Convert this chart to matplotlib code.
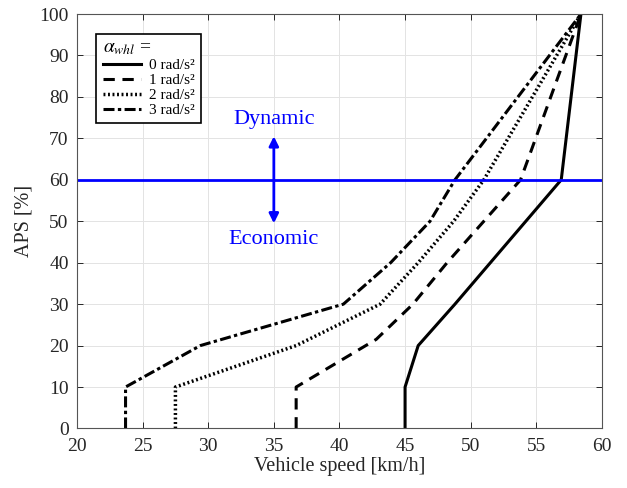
import matplotlib
matplotlib.use("Agg")
import matplotlib.pyplot as plt

plt.rcParams['font.family'] = ['Liberation Serif', 'DejaVu Serif']
plt.rcParams['mathtext.fontset'] = 'stix'

# APS [%] breakpoints of each shift line, and the vehicle speed [km/h] at each
aps_0 = [0, 10, 20, 30, 40, 50, 60, 100]
speed_0 = [45.0, 45.0, 46.0, 48.8, 51.5, 54.2, 56.9, 58.4]

aps_1 = [0, 10, 21.5, 30, 40, 50, 60, 100]
speed_1 = [36.7, 36.7, 42.8, 45.6, 48.2, 51.0, 53.8, 58.4]

aps_2 = [0, 10, 20, 30, 40, 50, 60, 100]
speed_2 = [27.5, 27.5, 36.7, 43.1, 46.0, 48.7, 51.0, 58.4]

aps_3 = [0, 10, 20, 30, 40, 50, 60, 100]
speed_3 = [23.7, 23.7, 29.4, 40.3, 43.9, 46.9, 48.8, 58.4]

labels = ['0 rad/s²', '1 rad/s²', '2 rad/s²', '3 rad/s²']
threshold = 60

fig = plt.figure(figsize=(6.27, 4.88), dpi=100)
ax = fig.add_axes([0.1228, 0.122, 0.8372, 0.8492])

lw = 2.2
ax.plot(speed_0, aps_0, color='k', lw=lw, linestyle='-', label=labels[0])
ax.plot(speed_1, aps_1, color='k', lw=lw, linestyle=(0, (3.7, 2.5)), label=labels[1])
ax.plot(speed_2, aps_2, color='k', lw=2.5, linestyle=(0, (0.55, 0.75)), label=labels[2])
ax.plot(speed_3, aps_3, color='k', lw=lw, linestyle=(0, (3.6, 1.1, 1.1, 1.1)), label=labels[3])

# shift threshold line and mode arrow
ax.axhline(threshold, color='#0000ff', lw=2)
ax.annotate('', xy=(35, 70.5), xytext=(35, 49.5),
            arrowprops=dict(arrowstyle='<|-|>', color='#0000ff', lw=2,
                            mutation_scale=14, shrinkA=0, shrinkB=0))
ax.text(35, 74.5, 'Dynamic', color='#0000ff', fontsize=16, ha='center', va='center')
ax.text(35, 45.5, 'Economic', color='#0000ff', fontsize=16, ha='center', va='center')

ax.set_xlim(20, 60)
ax.set_ylim(0, 100)
ax.set_xticks(range(20, 61, 5))
ax.set_yticks(range(0, 101, 10))
ax.grid(True, color='#e3e3e3', lw=0.7)
ax.set_axisbelow(True)
ax.tick_params(direction='in', top=True, right=True, labelsize=14,
               colors='#262626', length=4, width=0.7)
ax.tick_params(axis='x', pad=7)
ax.tick_params(axis='y', pad=6)
for sp in ax.spines.values():
    sp.set_color('#555555')
    sp.set_linewidth(0.8)

ax.set_xlabel('Vehicle speed [km/h]', fontsize=14.5, color='#262626', labelpad=1)
ax.set_ylabel('APS [%]', fontsize=14.5, color='#262626', labelpad=4)

leg = ax.legend(title=r'$\alpha_{whl}$ =', loc='upper left',
                bbox_to_anchor=(0.037, 0.953), fontsize=11, title_fontsize=14,
                fancybox=False, edgecolor='k', framealpha=1,
                handlelength=2.5, handletextpad=0.55, borderpad=0.4,
                borderaxespad=0, labelspacing=0.08, alignment='left')
leg.get_frame().set_linewidth(1.2)

fig.savefig('out.png', dpi=100)
